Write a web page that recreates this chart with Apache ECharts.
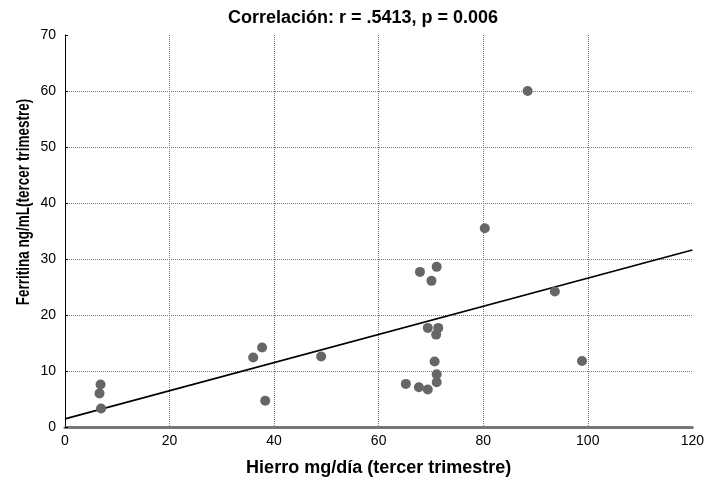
<!DOCTYPE html>
<html><head><meta charset="utf-8">
<script src="https://cdn.jsdelivr.net/npm/echarts@6/dist/echarts.min.js"></script>
<style>html,body{margin:0;padding:0;background:#fff}#c{width:707px;height:483px}</style>
</head><body><div id="c"></div>
<script>
const titleText = 'Correlación: r = .5413, p = 0.006';
const xName = 'Hierro mg/día (tercer trimestre)';
const yName = 'Ferritina ng/mL(tercer trimestre)';
const hierro = [6.8, 6.6, 6.9, 38.3, 36.0, 37.7, 49.0, 65.2, 67.7, 69.4, 71.1, 71.1, 70.7, 67.9, 71.1, 70.1, 69.4, 71.4, 71.0, 80.3, 93.7, 98.9, 88.5];
const ferritina = [7.6, 6.0, 3.3, 4.7, 12.4, 14.2, 12.6, 7.7, 7.1, 6.7, 8.0, 9.4, 11.7, 27.7, 28.6, 26.1, 17.7, 17.7, 16.5, 35.5, 24.2, 11.8, 60.0];
const fitX = [0, 120];
const fitY = [1.45, 31.6];

const pts = hierro.map((x, i) => [x, ferritina[i]]);
const line = fitX.map((x, i) => [x, fitY[i]]);
const font = "'Liberation Sans', Arial, sans-serif";
const chart = echarts.init(document.getElementById('c'));
chart.setOption({
  animation: false,
  title: { text: titleText, left: 358, top: 4, textAlign: 'center',
    textStyle: { fontFamily: font, fontWeight: 'bold', fontSize: 18, color: '#000' } },
  grid: { left: 65, right: 14, top: 35, bottom: 56 },
  graphic: [{
    type: 'text', x: 24, y: 202, rotation: Math.PI / 2, scaleX: 0.75,
    style: { text: yName, fontFamily: font, fontWeight: 'bold', fontSize: 18, fill: '#000',
      textAlign: 'center', textVerticalAlign: 'middle', align: 'center', verticalAlign: 'middle' }
  }],
  xAxis: {
    type: 'value', min: 0, max: 120, interval: 20,
    name: xName, nameLocation: 'middle', nameGap: 32,
    nameTextStyle: { fontFamily: font, fontWeight: 'bold', fontSize: 18, color: '#000' },
    axisLine: { onZero: false, lineStyle: { color: '#777', width: 3 } },
    axisTick: { show: false },
    axisLabel: { fontFamily: font, fontSize: 14, color: '#000', margin: 7 },
    splitLine: { show: true, showMaxLine: false, lineStyle: { color: '#777', type: [1, 1], width: 1 } }
  },
  yAxis: {
    type: 'value', min: 0, max: 70, interval: 10,
    axisLine: { show: true, onZero: false, lineStyle: { color: '#000', width: 1 } },
    axisTick: { show: true, inside: true, length: 3, lineStyle: { color: '#000' } },
    axisLabel: { fontFamily: font, fontSize: 14, color: '#000', margin: 9 },
    splitLine: { show: true, showMaxLine: false, lineStyle: { color: '#777', type: [1, 1], width: 1 } }
  },
  series: [
    { type: 'line', data: line, symbol: 'none', lineStyle: { color: '#000', width: 1.6 }, z: 3 },
    { type: 'scatter', data: pts, symbolSize: 10, itemStyle: { color: '#666', opacity: 1 }, z: 4 }
  ]
});
</script></body></html>
